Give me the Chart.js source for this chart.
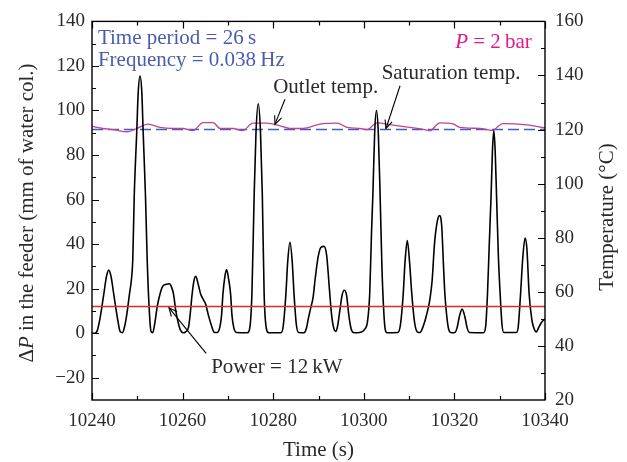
<!DOCTYPE html>
<html>
<head>
<meta charset="utf-8">
<script src="https://cdn.jsdelivr.net/npm/chart.js@4/dist/chart.umd.min.js"></script>
<style>
html,body{margin:0;padding:0;background:#fff;}
#wrap{width:627px;height:462px;position:relative;}
</style>
</head>
<body>
<div id="wrap"><canvas id="c" width="627" height="462"></canvas></div>
<script>
// ---- data ----
const dpTime = [10240.0,10240.6,10241.1,10241.8,10242.6,10243.2,10243.7,10244.2,10244.8,10245.6,10246.2,10246.7,
  10247.2,10247.7,10248.3,10248.7,10249.0,10249.33,10249.87,10250.2,10250.6,10251.0,10251.3,10251.8,10252.2,10252.6,10253.0,10253.4,
  10253.9,10254.4,10255.0,10255.6,10256.4,10257.1,10257.5,10258.0,10258.5,10259.0,10259.5,10260.1,
  10260.6,10261.3,10261.7,10262.1,10262.5,10262.9,10263.5,10264.0,10264.6,10265.1,10265.7,10266.5,10267.0,
  10267.6,10268.2,10268.6,10268.9,10269.3,10269.7,10270.1,10270.6,10270.9,10271.3,10271.9,
  10274.3,10274.8,10275.3,10275.8,10276.2,10276.7,10277.2,10277.6,10278.0,10278.5,10279.0,
  10281.7,10282.2,10282.8,10283.2,10283.7,10284.2,10284.6,10285.1,10285.6,
  10286.8,10287.3,10287.8,10288.3,10288.8,10289.3,10289.9,10290.5,10291.2,10291.8,10292.4,10292.9,10293.4,10293.8,
  10294.2,10294.7,10295.2,10295.7,10296.2,10296.7,10297.2,10297.7,
  10298.5,10299.5,
  10300.3,10300.8,10301.3,10301.7,10302.0,10302.4,10302.8,10303.2,10303.6,10304.0,10304.3,10304.7,10305.1,
  10307.5,10308.1,10308.7,10309.1,10309.6,10310.1,10310.6,10311.2,10311.9,
  10312.4,10313.1,10313.9,10314.6,10315.1,10315.6,10316.2,10316.7,10317.2,10317.6,10317.9,10318.4,10318.9,10319.4,
  10320.1,10320.6,10321.1,10321.7,10322.3,10322.8,10323.3,
  10326.4,10326.9,10327.3,10327.7,10328.1,10328.4,10328.7,10329.0,10329.3,10329.7,10330.1,10330.5,10330.9,
  10333.7,10334.1,10334.6,10335.1,10335.6,10336.0,10336.5,10337.1,10337.6,10338.1,10338.6,10339.3,10340.0];
const dpVal = [0,0,0.8,7,17.5,25.5,28.3,25.5,17.5,7,0.8,0.2,
  3,8.7,18,24,33,62,90,108,115.5,108,90,62,32,12,1,0.2,
  5,12,17.5,21,22,22.2,21,17.5,10,5,1.5,0.2,
  0.5,2.6,9,17.5,23.5,25.6,21.5,17.5,15,13,8,2.6,0.3,
  0.3,2.5,8,17.5,25,28.6,25,17.5,8,2.5,0.3,
  0.2,2,17.5,62,90,103,90,62,17.5,2,0.2,
  0.2,3,17.5,32,40.8,32,17.5,4,0.3,
  0.2,2,7,11.5,16,25,34,38.5,39,35,20,8,2,0.8,
  3,10,17,19.3,17,8,2,0.3,
  0.2,0.5,
  2,5,17.5,45,62,90,100,90,62,30,14,2,0.2,
  0.3,4,17.5,32,41.6,32,17.5,5,0.4,
  0.3,3,8.6,15.3,24,40,50,52.8,48,30,17.5,6,0.8,0.2,
  0.3,2.5,7.5,10.8,7.5,2.5,0.3,
  0.2,3,17.5,40,62,82,91,82,62,35,17.5,4,0.3,
  0.3,3,17.5,34,42.7,38,17.5,6,2,0.6,2.5,5,6.4];
const tempTime = [10240.0,10242.4,10244.6,10247.9,10249.9,10252.4,10255.0,10257.9,10260.1,10262.3,10264.5,10266.7,10268.3,10271.1,10273.3,10275.5,10278.6,10281.5,10283.7,10286.6,10290.3,10294.1,10296.3,10299.2,10300.7,10302.9,10305.8,10310.2,10313.1,10314.6,10316.8,10319.7,10321.2,10325.7,10328.3,10330.7,10336.0,10340.0];
const tempVal = [121.2,120.4,120.0,119.2,120.4,122.0,120.8,120.4,120.4,119.6,122.6,122.6,120.4,120.4,119.6,122.4,122.4,121.4,120.4,120.4,122.0,122.4,120.8,120.4,120.0,122.5,121.8,120.8,120.1,119.6,122.5,122.1,120.8,120.4,119.7,122.2,121.7,120.6];
const satTemp = 120;      // saturation temperature (°C)
const powerLevel = 12;    // ΔP-axis level of power line
const timeRange = [10240, 10340];
const xTicks = [10240,10260,10280,10300,10320,10340];
const yTicks = [-20,0,20,40,60,80,100,120,140];
const y2Ticks = [20,40,60,80,100,120,140,160];
const xTitle = 'Time (s)';
const yTitle = [['Δ',false],['P',true],[' in the feeder (mm of water col.)',false]];
const y2Title = 'Temperature (°C)';

const FONT = "'Liberation Serif', 'Times New Roman', serif";
const TICKCOL = '#2a2a2a';
const TXT = 21;

function pts(xs, ys){ return xs.map((x,i)=>({x:x, y:ys[i]})); }

function drawRich(ctx, segs, x, y, size, align){
  let w = 0;
  const ws = segs.map(s=>{ ctx.font = (s[1]?'italic ':'') + size + 'px ' + FONT; const m = ctx.measureText(s[0]).width; w += m; return m; });
  let cx = align==='center' ? x - w/2 : (align==='right' ? x - w : x);
  ctx.textAlign = 'left';
  segs.forEach((s,i)=>{ ctx.font = (s[1]?'italic ':'') + size + 'px ' + FONT; ctx.fillText(s[0], cx, y); cx += ws[i]; });
}

function arrow(ctx, x1, y1, x2, y2){
  ctx.beginPath(); ctx.moveTo(x1,y1); ctx.lineTo(x2,y2); ctx.stroke();
  const a = Math.atan2(y2-y1, x2-x1), L = 9, sp = 0.42;
  ctx.beginPath();
  ctx.moveTo(x2 - L*Math.cos(a-sp), y2 - L*Math.sin(a-sp));
  ctx.lineTo(x2, y2);
  ctx.lineTo(x2 - L*Math.cos(a+sp), y2 - L*Math.sin(a+sp));
  ctx.stroke();
}

const decor = {
  id: 'decor',
  afterDraw(chart){
    const ctx = chart.ctx, ca = chart.chartArea;
    const sx = chart.scales.x, sy = chart.scales.y, sy2 = chart.scales.y2;
    ctx.save();
    ctx.strokeStyle = '#000'; ctx.lineWidth = 1.4;
    ctx.strokeRect(ca.left, ca.top, ca.right-ca.left, ca.bottom-ca.top);
    ctx.lineWidth = 1.2;
    ctx.beginPath();
    for (let v = timeRange[0]; v <= timeRange[1]; v += 10){
      const px = Math.round(sx.getPixelForValue(v)) + 0.5;
      const L = (v % 20 === 0) ? 7 : 4;
      ctx.moveTo(px, ca.bottom); ctx.lineTo(px, ca.bottom - L);
      ctx.moveTo(px, ca.top); ctx.lineTo(px, ca.top + L);
    }
    for (let v = -20; v <= 140; v += 10){
      const py = Math.round(sy.getPixelForValue(v)) + 0.5;
      const L = (v % 20 === 0) ? 7 : 4;
      ctx.moveTo(ca.left, py); ctx.lineTo(ca.left + L, py);
    }
    for (let v = 30; v <= 150; v += 10){
      const py = Math.round(sy2.getPixelForValue(v)) + 0.5;
      const L = (v % 20 === 0) ? 7 : 4;
      ctx.moveTo(ca.right, py); ctx.lineTo(ca.right - L, py);
    }
    ctx.stroke();

    // axis titles
    ctx.fillStyle = TICKCOL; ctx.textBaseline = 'middle';
    ctx.font = TXT + 'px ' + FONT; ctx.textAlign = 'center';
    ctx.fillText(xTitle, (ca.left+ca.right)/2, 450);
    ctx.save(); ctx.translate(27, 213); ctx.rotate(-Math.PI/2);
    drawRich(ctx, yTitle, 0, 0, TXT, 'center'); ctx.restore();
    ctx.save(); ctx.translate(607, 217); ctx.rotate(-Math.PI/2);
    ctx.font = TXT + 'px ' + FONT; ctx.textAlign='center'; ctx.fillText(y2Title, 0, 0); ctx.restore();

    // annotations (placed in data units)
    ctx.fillStyle = '#4a5cb0';
    drawRich(ctx, [['Time period = 26\u2009s', false]], sx.getPixelForValue(10241.3), sy.getPixelForValue(132.4), TXT, 'left');
    drawRich(ctx, [['Frequency = 0.038\u2009Hz', false]], sx.getPixelForValue(10241.3), sy.getPixelForValue(122.6), TXT, 'left');
    ctx.fillStyle = '#e3168a';
    drawRich(ctx, [['P', true], [' = 2\u2009bar', false]], sx.getPixelForValue(10337.1), sy.getPixelForValue(130.7), TXT, 'right');
    ctx.fillStyle = TICKCOL;
    drawRich(ctx, [['Outlet temp.', false]], sx.getPixelForValue(10280.0), sy2.getPixelForValue(135.4), TXT, 'left');
    drawRich(ctx, [['Saturation temp.', false]], sx.getPixelForValue(10303.95), sy2.getPixelForValue(140.9), TXT, 'left');
    drawRich(ctx, [['Power = 12\u2009kW', false]], sx.getPixelForValue(10266.3), sy.getPixelForValue(-15.3), TXT, 'left');
    ctx.strokeStyle = '#000'; ctx.lineWidth = 1.1;
    arrow(ctx, sx.getPixelForValue(10282.6), sy2.getPixelForValue(131.2), sx.getPixelForValue(10280.4), sy2.getPixelForValue(122.0));
    arrow(ctx, sx.getPixelForValue(10308.0), sy2.getPixelForValue(136.2), sx.getPixelForValue(10304.9), sy2.getPixelForValue(120.4));
    arrow(ctx, sx.getPixelForValue(10265.2), sy.getPixelForValue(-9.1), sx.getPixelForValue(10257.0), sy.getPixelForValue(11.4));
    ctx.restore();
  }
};

new Chart(document.getElementById('c'), {
  type: 'line',
  data: {
    datasets: [
      { label: 'Power', data: pts(timeRange, [powerLevel, powerLevel]), yAxisID: 'y',
        borderColor: '#e02a2a', borderWidth: 1.4, pointRadius: 0, tension: 0 },
      { label: 'ΔP', data: pts(dpTime, dpVal), yAxisID: 'y',
        borderColor: '#000', borderWidth: 1.6, pointRadius: 0, cubicInterpolationMode: 'monotone' },
      { label: 'Outlet temp.', data: pts(tempTime, tempVal), yAxisID: 'y2',
        borderColor: '#c2409c', borderWidth: 1.3, pointRadius: 0, cubicInterpolationMode: 'monotone' },
      { label: 'Saturation temp.', data: pts(timeRange, [satTemp, satTemp]), yAxisID: 'y2',
        borderColor: '#3b5fb8', borderWidth: 1.4, borderDash: [11, 5], pointRadius: 0, tension: 0 }
    ]
  },
  options: {
    responsive: false, animation: false, events: [],
    layout: { padding: { top: 18, left: 0, right: 0, bottom: 0 } },
    plugins: { legend: { display: false }, tooltip: { enabled: false } },
    scales: {
      x: { type: 'linear', position: 'bottom', min: timeRange[0], max: timeRange[1],
        grid: { display: false, drawTicks: false }, border: { display: false },
        afterBuildTicks: s => { s.ticks = xTicks.map(v => ({ value: v })); },
        afterFit: s => { s.height = 62; },
        ticks: { font: { family: FONT, size: 19 }, color: TICKCOL, padding: 10, maxRotation: 0,
          callback: v => String(v) } },
      y: { type: 'linear', position: 'left', min: -30, max: 140,
        grid: { display: false, drawTicks: false }, border: { display: false },
        afterBuildTicks: s => { s.ticks = yTicks.map(v => ({ value: v })); },
        afterFit: s => { s.width = 92; },
        ticks: { font: { family: FONT, size: 19 }, color: TICKCOL, padding: 7,
          callback: v => (v < 0 ? '\u2212' + Math.abs(v) : String(v)) } },
      y2: { type: 'linear', position: 'right', min: 20, max: 160,
        grid: { display: false, drawTicks: false }, border: { display: false },
        afterBuildTicks: s => { s.ticks = y2Ticks.map(v => ({ value: v })); },
        afterFit: s => { s.width = 82; },
        ticks: { font: { family: FONT, size: 19 }, color: TICKCOL, padding: 10,
          callback: v => String(v) } }
    }
  },
  plugins: [decor]
});
</script>
</body>
</html>
